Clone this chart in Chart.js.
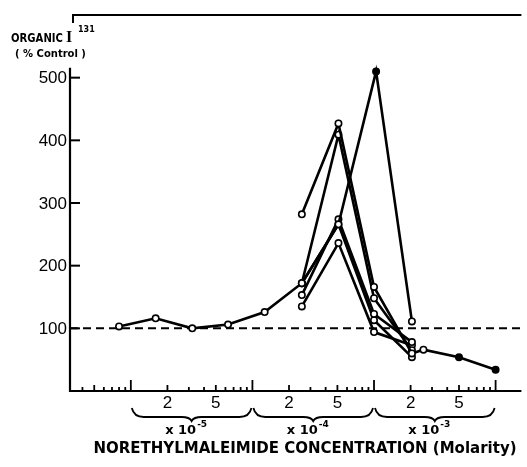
<!DOCTYPE html>
<html>
<head>
<meta charset="utf-8">
<script src="https://cdn.jsdelivr.net/npm/chart.js@4.4.1/dist/chart.umd.min.js"></script>
<style>
  body { margin: 0; background: #fff; }
  canvas { display: block; }
</style>
</head>
<body>
<canvas id="mycanvas" width="527" height="467"></canvas>
<script>
//########################## data ##########################//
// molar concentration of N-ethylmaleimide, organic I131 as % of control
var concA = [8e-6, 1.6e-5, 3.2e-5, 6.3e-5, 1.26e-4, 2.55e-4, 5.1e-4, 1.04e-3, 2.05e-3];
var pctA  = [103, 116, 100, 106, 126, 172, 266, 510, 111];

var concB = [2.55e-4, 5.1e-4, 1.0e-3, 2.05e-3, 2.55e-3, 5.0e-3, 1.0e-2];
var pctB  = [282, 427, 166, 60, 66, 54, 34];

var concCF = [2.55e-4, 5.1e-4, 1.0e-3, 2.05e-3];
var pctC  = [172, 409, 148, 65];
var pctD  = [153, 274, 123, 78];
var pctE  = [135, 236, 94, 73];
var pctF  = [172, 266, 113, 54];

var controlLevel = 100;
var yTicks = [100, 200, 300, 400, 500];
var xTickVals = [2e-5, 5e-5, 2e-4, 5e-4, 2e-3, 5e-3];
var xTickText = ['2', '5', '2', '5', '2', '5'];
var decades = [1e-5, 1e-4, 1e-3];
var decadeExp = ['-5', '-4', '-3'];

var xMin = 3.16e-6, xMax = 1.63e-2;

function pts(xs, ys) {
  var out = [];
  for (var i in xs) out.push({ x: xs[i], y: ys[i] });
  return out;
}

function series(xs, ys, fill) {
  return {
    data: pts(xs, ys),
    showLine: true,
    borderColor: '#000',
    borderWidth: 2.6,
    pointRadius: 3.2,
    pointBorderWidth: 1.6,
    pointBorderColor: '#000',
    pointBackgroundColor: fill || '#fff',
    clip: false,
    order: 1
  };
}

//########################## axes / labels drawn by hand ##########################//
var figurePlugin = {
  id: 'figure',
  beforeDraw: function(chart) {
    var c = chart.ctx;
    c.save();
    c.fillStyle = '#fff';
    c.fillRect(0, 0, chart.width, chart.height);
    c.restore();
  },
  beforeDatasetsDraw: function(chart) {
    var c = chart.ctx, xs = chart.scales.x, ys = chart.scales.y;
    var a = chart.chartArea;
    var y0 = ys.getPixelForValue(0);
    c.save();
    c.strokeStyle = '#000';
    c.fillStyle = '#000';
    c.lineWidth = 2.2;
    c.lineCap = 'butt';

    // axes
    c.beginPath();
    c.moveTo(a.left, ys.getPixelForValue(516));
    c.lineTo(a.left, y0);
    c.lineTo(a.right, y0);
    c.stroke();

    // top frame
    c.lineWidth = 2;
    c.beginPath();
    c.moveTo(a.left + 3, a.top + 8);
    c.lineTo(a.left + 3, a.top);
    c.lineTo(a.right, a.top);
    c.stroke();

    // y ticks + labels
    c.lineWidth = 2;
    c.font = '17px "Liberation Sans", Arial, sans-serif';
    c.textAlign = 'right';
    c.textBaseline = 'middle';
    yTicks.forEach(function(v) {
      var py = ys.getPixelForValue(v);
      c.beginPath();
      c.moveTo(a.left, py);
      c.lineTo(a.left + 10, py);
      c.stroke();
      c.fillText(String(v), a.left - 3, py + 1);
    });

    // x ticks (log)
    c.lineWidth = 1.8;
    for (var d = 1e-6; d < xMax; d *= 10) {
      for (var m = 1; m <= 9; m++) {
        var v = m * d;
        if (v < xMin || v > xMax) continue;
        var px = xs.getPixelForValue(v);
        var h = (m === 1) ? 11 : (m === 2 || m === 5) ? 6 : 4;
        c.beginPath();
        c.moveTo(px, y0);
        c.lineTo(px, y0 - h);
        c.stroke();
      }
    }
    c.font = '17px "Liberation Sans", Arial, sans-serif';
    c.textAlign = 'center';
    c.textBaseline = 'middle';
    xTickVals.forEach(function(v, i) {
      c.fillText(xTickText[i], xs.getPixelForValue(v), y0 + 12);
    });

    // braces + decade multipliers
    c.lineWidth = 1.8;
    decades.forEach(function(d, i) {
      var x1 = xs.getPixelForValue(d) + 1;
      var x2 = xs.getPixelForValue(d * 10) - 1;
      var xm = (x1 + x2) / 2;
      var top = y0 + 17, mid = y0 + 26, tip = y0 + 30;
      c.beginPath();
      c.moveTo(x1, top);
      c.quadraticCurveTo(x1 + 2, mid, x1 + 12, mid);
      c.lineTo(xm - 10, mid);
      c.quadraticCurveTo(xm - 2, mid, xm, tip);
      c.quadraticCurveTo(xm + 2, mid, xm + 10, mid);
      c.lineTo(x2 - 12, mid);
      c.quadraticCurveTo(x2 - 2, mid, x2, top);
      c.stroke();

      var ty = y0 + 40;
      c.textBaseline = 'middle';
      c.textAlign = 'left';
      c.font = 'bold 13px "DejaVu Sans", sans-serif';
      var base = 'x 10';
      var w1 = c.measureText(base).width;
      c.font = 'bold 9px "DejaVu Sans", sans-serif';
      var w2 = c.measureText(decadeExp[i]).width;
      var sx = xm - 6 - (w1 + w2) / 2;
      c.font = 'bold 13px "DejaVu Sans", sans-serif';
      c.fillText(base, sx, ty);
      c.font = 'bold 9px "DejaVu Sans", sans-serif';
      c.fillText(decadeExp[i], sx + w1 + 1, ty - 6);
    });

    // x title
    c.textAlign = 'center';
    c.textBaseline = 'middle';
    c.font = 'bold 15px "DejaVu Sans", sans-serif';
    c.fillText('NORETHYLMALEIMIDE CONCENTRATION (Molarity)', 305, y0 + 58, 430);

    // y title
    c.textAlign = 'left';
    c.textBaseline = 'alphabetic';
    c.font = 'bold 13px "DejaVu Sans", sans-serif';
    c.fillText('ORGANIC', 11, 42, 52);
    c.font = 'bold 16px "Liberation Serif", serif';
    c.fillText('I', 66, 42);
    c.font = 'bold 8px "DejaVu Sans", sans-serif';
    c.fillText('131', 78, 32, 20);
    c.font = 'bold 10px "DejaVu Sans", sans-serif';
    c.fillText('( % Control )', 15, 57, 78);

    c.restore();
  }
};

//########################## chart ##########################//
var ctx = document.getElementById('mycanvas');
var chart = new Chart(ctx, {
  type: 'scatter',
  data: {
    datasets: [
      {
        data: [{ x: xMin, y: controlLevel }, { x: xMax, y: controlLevel }],
        showLine: true,
        borderColor: '#000',
        borderWidth: 2,
        borderDash: [8, 5],
        pointRadius: 0,
        clip: false,
        order: 10
      },
      series(concA, pctA, ['#fff', '#fff', '#fff', '#fff', '#fff', '#fff', '#fff', '#000', '#fff']),
      series(concB, pctB, ['#fff', '#fff', '#fff', '#fff', '#fff', '#000', '#000']),
      series(concCF, pctC),
      series(concCF, pctD),
      series(concCF, pctE),
      series(concCF, pctF)
    ]
  },
  options: {
    responsive: false,
    animation: false,
    layout: { padding: { left: 70, right: 0, top: 15, bottom: 76 } },
    plugins: { legend: { display: false }, tooltip: { enabled: false } },
    scales: {
      x: { type: 'logarithmic', min: xMin, max: xMax, display: false },
      y: { min: 0, max: 600, display: false }
    }
  },
  plugins: [figurePlugin]
});
</script>
</body>
</html>
